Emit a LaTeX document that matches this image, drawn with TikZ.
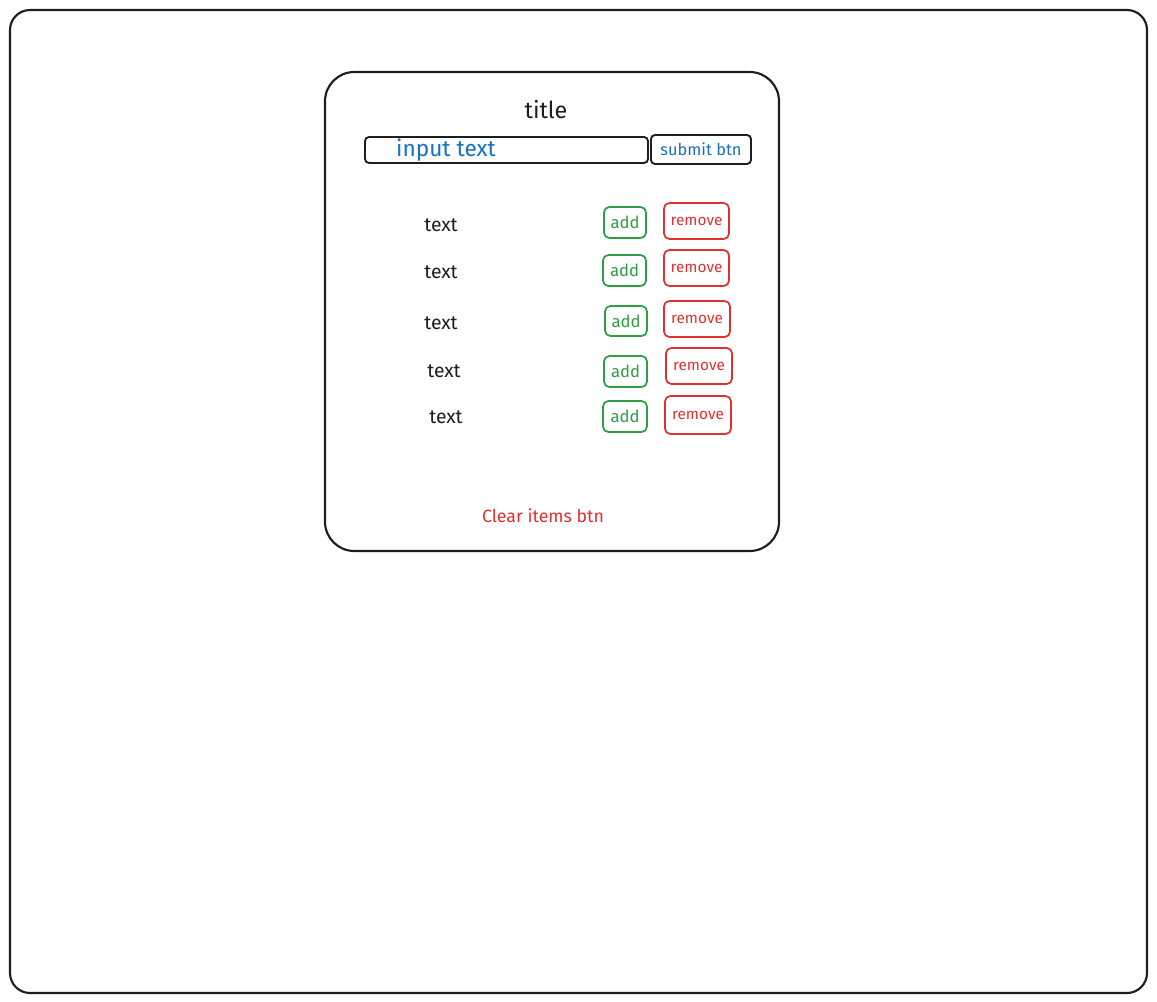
\documentclass[tikz,border=0pt]{standalone}
\usepackage{fontspec}
\setmainfont{Fira Sans}
\definecolor{inkblack}{HTML}{1E1E1E}
\definecolor{inkblue}{HTML}{1971C2}
\definecolor{inkgreen}{HTML}{2F9E44}
\definecolor{inkred}{HTML}{E03131}
\begin{document}
\begin{tikzpicture}[x=0.75pt,y=-0.75pt,
  frame/.style={draw=inkblack,line width=1.6pt},
  field/.style={draw=inkblack,line width=1.4pt,rounded corners=3pt},
  addbox/.style={draw=inkgreen,line width=1.3pt,rounded corners=4pt},
  rembox/.style={draw=inkred,line width=1.3pt,rounded corners=4pt},
  lbl/.style={inner sep=0pt,font=\fontsize{14.5}{16}\selectfont,text=inkblack},
  addlbl/.style={inner sep=0pt,font=\fontsize{12.5}{14}\selectfont,text=inkgreen},
  remlbl/.style={inner sep=0pt,font=\fontsize{11.5}{13}\selectfont,text=inkred}]
\useasboundingbox (0,0) rectangle (1157,1002);
\fill[white] (0,0) rectangle (1157,1002);
% outer frame
\draw[frame,rounded corners=15pt] (10,10) rectangle (1147,993);
% card
\draw[frame,rounded corners=22pt] (325,72) rectangle (779,551);
\node[lbl,font=\fontsize{17.5}{19}\selectfont] (title) at (546,110) {title};
% input + submit
\draw[field] (365,137) rectangle (648,163);
\node[inner sep=0pt,font=\fontsize{17}{19}\selectfont,text=inkblue] (input) at (446,150) {input text};
\draw[field] (651,135) rectangle (751,164);
\node[inner sep=0pt,font=\fontsize{12.3}{14}\selectfont,text=inkblue] (submit) at (701,149) {submit btn};
% rows
\foreach \i/\tx/\ty/\ax/\ay/\bx/\by/\rx/\ry/\sx/\sy in {
  1/441/225/604/207/646/238/664/203/729/239,
  2/441/272/603/255/646/286/664/250/729/286,
  3/441/323/605/306/647/336/664/301/730/337,
  4/444/371/604/356/647/387/666/348/732/384,
  5/446/417/603/401/647/432/665/396/731/434}{
  \node[lbl] (text\i) at (\tx,\ty) {text};
  \draw[addbox] (\ax,\ay) rectangle (\bx,\by);
  \node[addlbl] (add\i) at ({(\ax+\bx)/2},{(\ay+\by)/2}) {add};
  \draw[rembox] (\rx,\ry) rectangle (\sx,\sy);
  \node[remlbl] (rem\i) at ({(\rx+\sx)/2},{(\ry+\sy)/2}) {remove};
}
\node[inner sep=0pt,font=\fontsize{13.3}{15}\selectfont,text=inkred] (clear) at (543,516) {Clear items btn};
\end{tikzpicture}
\end{document}
